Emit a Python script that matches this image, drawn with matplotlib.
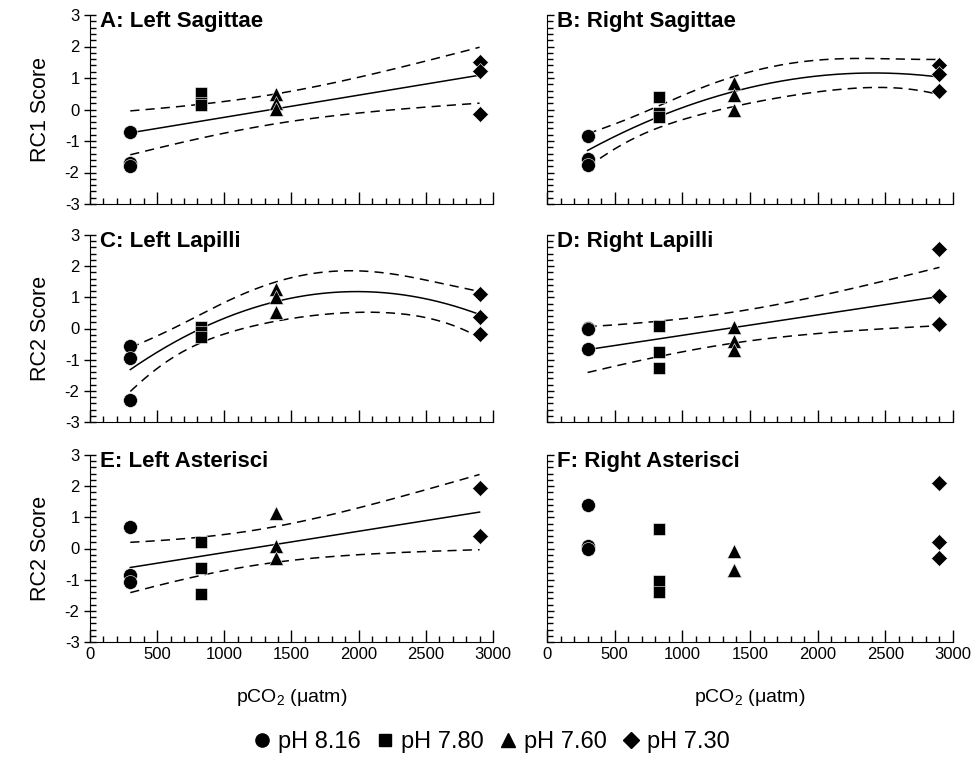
import numpy as np
import matplotlib
matplotlib.use('Agg')
import matplotlib.pyplot as plt
from matplotlib.ticker import MultipleLocator
from matplotlib.lines import Line2D

plt.rcParams['font.family'] = ['Liberation Sans', 'DejaVu Sans']
plt.rcParams['mathtext.fontset'] = 'custom'
plt.rcParams['mathtext.rm'] = 'Liberation Sans'
plt.rcParams['axes.unicode_minus'] = False

# pCO2 level of each treatment
pco2 = [300, 830, 1385, 2900]
ph_labels = ['pH 8.16', 'pH 7.80', 'pH 7.60', 'pH 7.30']
markers = ['o', 's', '^', 'D']
msizes = [10, 9, 10, 8.5]

titles = ['A: Left Sagittae', 'B: Right Sagittae', 'C: Left Lapilli',
          'D: Right Lapilli', 'E: Left Asterisci', 'F: Right Asterisci']
ylabels = ['RC1 Score', None, 'RC2 Score', None, 'RC2 Score', None]
fit_degree = [1, 2, 2, 1, 1, None]

# scores per treatment (pH 8.16, 7.80, 7.60, 7.30)
scores_A = [[-0.70, -1.71, -1.78], [0.52, 0.20, 0.15], [0.50, 0.22, 0.03], [1.51, 1.22, -0.15]]
scores_B = [[-0.84, -1.58, -1.76], [0.39, -0.12, -0.25], [0.83, 0.46, -0.02], [1.41, 1.13, 0.60]]
scores_C = [[-0.56, -0.96, -2.29], [0.06, -0.12, -0.28], [1.28, 1.02, 0.54], [1.12, 0.37, -0.17]]
scores_D = [[0.03, 0.00, -0.65], [0.08, -0.76, -1.27], [0.06, -0.39, -0.68], [2.55, 1.05, 0.14]]
scores_E = [[0.68, -0.84, -1.07], [0.21, -0.61, -1.47], [1.13, 0.08, -0.29], [1.95, 0.40]]
scores_F = [[1.41, 0.07, 0.00], [0.62, -1.05, -1.41], [-0.09, -0.70, -0.70], [2.10, 0.21, -0.29]]
all_scores = [scores_A, scores_B, scores_C, scores_D, scores_E, scores_F]

# two-sided 95% t quantiles by residual df
t975 = {8: 2.306, 9: 2.262, 10: 2.228}

W, H = 979, 779
fig = plt.figure(figsize=(W / 100, H / 100), dpi=100)

col_left = [90, 547]
col_right = [493, 953]
row_top = [15, 235, 455]
row_bot = [204, 422, 642]


def fit_with_band(x, y, deg, xs):
    X = np.vander(x, deg + 1)
    beta, *_ = np.linalg.lstsq(X, y, rcond=None)
    resid = y - X @ beta
    df = len(y) - (deg + 1)
    s2 = resid @ resid / df
    cov = s2 * np.linalg.inv(X.T @ X)
    Xs = np.vander(xs, deg + 1)
    yhat = Xs @ beta
    se = np.sqrt(np.einsum('ij,jk,ik->i', Xs, cov, Xs))
    return yhat, yhat - t975[df] * se, yhat + t975[df] * se


for i, scores in enumerate(all_scores):
    r, c = divmod(i, 2)
    l, rt = col_left[c], col_right[c]
    t, b = row_top[r], row_bot[r]
    ax = fig.add_axes([l / W, 1 - b / H, (rt - l) / W, (b - t) / H])

    xs_all, ys_all = [], []
    for k, grp in enumerate(scores):
        xv = [pco2[k]] * len(grp)
        ax.plot(xv, grp, linestyle='none', marker=markers[k], ms=msizes[k],
                color='black', mec='white', mew=0.4, zorder=3, clip_on=False)
        xs_all += xv
        ys_all += grp

    deg = fit_degree[i]
    if deg is not None:
        xs = np.linspace(pco2[0], pco2[-1], 200)
        yhat, lo, hi = fit_with_band(np.array(xs_all, float), np.array(ys_all, float), deg, xs)
        ax.plot(xs, yhat, color='black', lw=1.1, zorder=2)
        ax.plot(xs, lo, color='black', lw=1.1, dashes=(6, 4), zorder=2)
        ax.plot(xs, hi, color='black', lw=1.1, dashes=(6, 4), zorder=2)

    ax.set_xlim(0, 3000)
    ax.set_ylim(-3, 3)
    ax.spines['top'].set_visible(False)
    ax.spines['right'].set_visible(False)
    ax.xaxis.set_major_locator(MultipleLocator(500))
    ax.xaxis.set_minor_locator(MultipleLocator(100))
    ax.yaxis.set_major_locator(MultipleLocator(1))
    ax.yaxis.set_minor_locator(MultipleLocator(0.2))
    ax.tick_params(axis='x', which='major', direction='in', length=9, width=1)
    ax.tick_params(axis='x', which='minor', direction='in', length=4, width=1)
    ax.tick_params(axis='y', which='major', direction='inout' if c == 0 else 'in',
                   length=8 if c == 0 else 5, width=1)
    ax.tick_params(axis='y', which='minor', direction='in', length=4, width=1)
    ax.tick_params(labelsize=12)
    if r < 2:
        ax.tick_params(axis='x', labelbottom=False)
    else:
        ax.set_xlabel(r'pCO$_\mathregular{2}$ (μatm)', fontsize=14, labelpad=18)
    if c == 1:
        ax.tick_params(axis='y', labelleft=False)
    if ylabels[i]:
        ax.set_ylabel(ylabels[i], fontsize=15.5, labelpad=10)
    ax.text(0.025, 1.02, titles[i], transform=ax.transAxes, fontsize=16,
            fontweight='bold', va='top', ha='left')

handles = [Line2D([], [], linestyle='none', marker=m, ms=s * 0.95, color='black')
           for m, s in zip(markers, msizes)]
fig.legend(handles, ph_labels, loc='center', bbox_to_anchor=(490 / W, 1 - 742 / H),
           ncol=4, frameon=False, fontsize=17, handletextpad=0.2, columnspacing=0.5,
           handlelength=1.0)

fig.savefig('out.png', dpi=100)
